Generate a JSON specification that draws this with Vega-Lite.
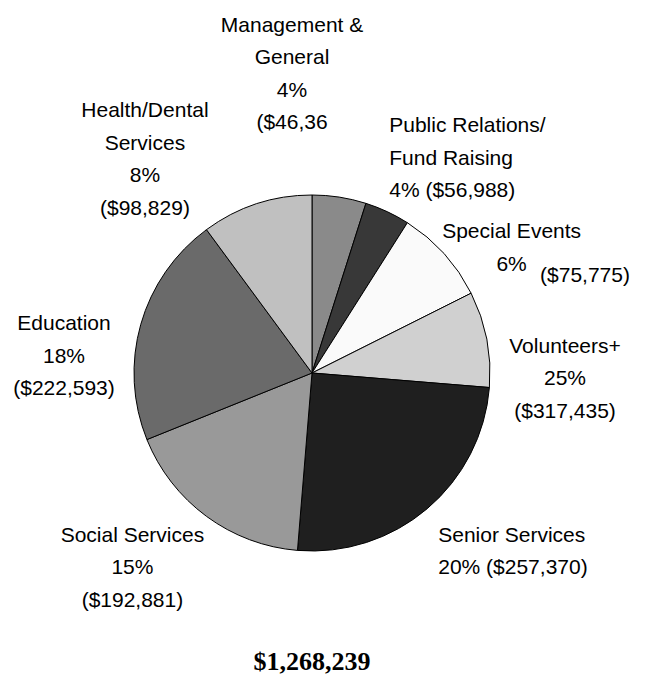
{
  "$schema": "https://vega.github.io/schema/vega-lite/v6.json",
  "width": 624,
  "height": 594,
  "autosize": {"type": "none"},
  "padding": {"top": 76, "left": 0, "right": 26, "bottom": 7},
  "background": "white",
  "title": {
    "text": "$1,268,239",
    "orient": "bottom",
    "anchor": "middle",
    "frame": "group",
    "font": "Liberation Serif",
    "fontSize": 26,
    "fontWeight": "bold",
    "color": "black",
    "baseline": "alphabetic",
    "offset": 0
  },
  "config": {"view": {"stroke": null}},
  "datasets": {
    "slices": [
      {"category": "Management & General", "slot": 1, "share": 4.9},
      {"category": "Public Relations/Fund Raising", "slot": 2, "share": 4.1},
      {"category": "Special Events", "slot": 3, "share": 8.6},
      {"category": "Volunteers+", "slot": 4, "share": 8.7},
      {"category": "Senior Services", "slot": 5, "share": 25.0},
      {"category": "Social Services", "slot": 6, "share": 17.6},
      {"category": "Education", "slot": 7, "share": 21.0},
      {"category": "Health/Dental Services", "slot": 8, "share": 10.1}
    ],
    "labels": [
      {"category": "Management & General", "lines": ["Management &", "General", "4%", "($46,36"], "angle": 99.07, "dist": 192.1},
      {"category": "Health/Dental Services", "lines": ["Health/Dental", "Services", "8%", "($98,829)"], "angle": 90.79, "dist": 171.6},
      {"category": "Public Relations/Fund Raising", "lines": ["Public Relations/", "Fund Raising", "4% ($56,988)"], "angle": 4.94, "dist": 142.0},
      {"category": "Special Events", "lines": ["Special Events", "6%"], "angle": 15.55, "dist": 135.3},
      {"category": "Special Events amount", "lines": ["($75,775)"], "angle": 18.94, "dist": 138.0},
      {"category": "Volunteers+", "lines": ["Volunteers+", "25%", "($317,435)"], "angle": 23.72, "dist": 142.6},
      {"category": "Senior Services", "lines": ["Senior Services", "20% ($257,370)"], "angle": 39.78, "dist": 118.4},
      {"category": "Social Services", "lines": ["Social Services", "15%", "($192,881)"], "angle": 63.0, "dist": 138.4},
      {"category": "Education", "lines": ["Education", "18%", "($222,593)"], "angle": 77.73, "dist": 141.4}
    ]
  },
  "layer": [
    {
      "data": {"name": "slices"},
      "mark": {"type": "arc", "outerRadius": 178, "stroke": "black", "strokeWidth": 1},
      "encoding": {
        "theta": {"field": "share", "type": "quantitative", "stack": true, "scale": {"domain": [0, 100]}},
        "color": {
          "field": "category",
          "type": "nominal",
          "scale": {
            "domain": ["Management & General", "Public Relations/Fund Raising", "Special Events", "Volunteers+", "Senior Services", "Social Services", "Education", "Health/Dental Services"],
            "range": ["#8a8a8a", "#383838", "#fafafa", "#d0d0d0", "#1f1f1f", "#999999", "#6a6a6a", "#c0c0c0"]
          },
          "legend": null
        },
        "order": {"field": "slot", "type": "quantitative"}
      }
    },
    {
      "data": {"name": "labels"},
      "transform": [{"filter": {"field": "category", "oneOf": ["Management & General", "Health/Dental Services", "Special Events", "Volunteers+", "Social Services", "Education"]}}],
      "mark": {"type": "text", "align": "center", "baseline": "alphabetic", "font": "Liberation Sans", "fontSize": 21, "lineHeight": 32.5, "color": "black"},
      "encoding": {
        "theta": {"field": "angle", "type": "quantitative"},
        "radius": {"field": "dist", "type": "quantitative", "scale": {"type": "linear", "domain": [0, 100], "range": [0, 178], "zero": true}},
        "text": {"field": "lines", "type": "nominal"}
      }
    },
    {
      "data": {"name": "labels"},
      "transform": [{"filter": {"field": "category", "oneOf": ["Public Relations/Fund Raising", "Special Events amount", "Senior Services"]}}],
      "mark": {"type": "text", "align": "left", "baseline": "alphabetic", "font": "Liberation Sans", "fontSize": 21, "lineHeight": 32.5, "color": "black"},
      "encoding": {
        "theta": {"field": "angle", "type": "quantitative"},
        "radius": {"field": "dist", "type": "quantitative", "scale": {"type": "linear", "domain": [0, 100], "range": [0, 178], "zero": true}},
        "text": {"field": "lines", "type": "nominal"}
      }
    }
  ]
}
